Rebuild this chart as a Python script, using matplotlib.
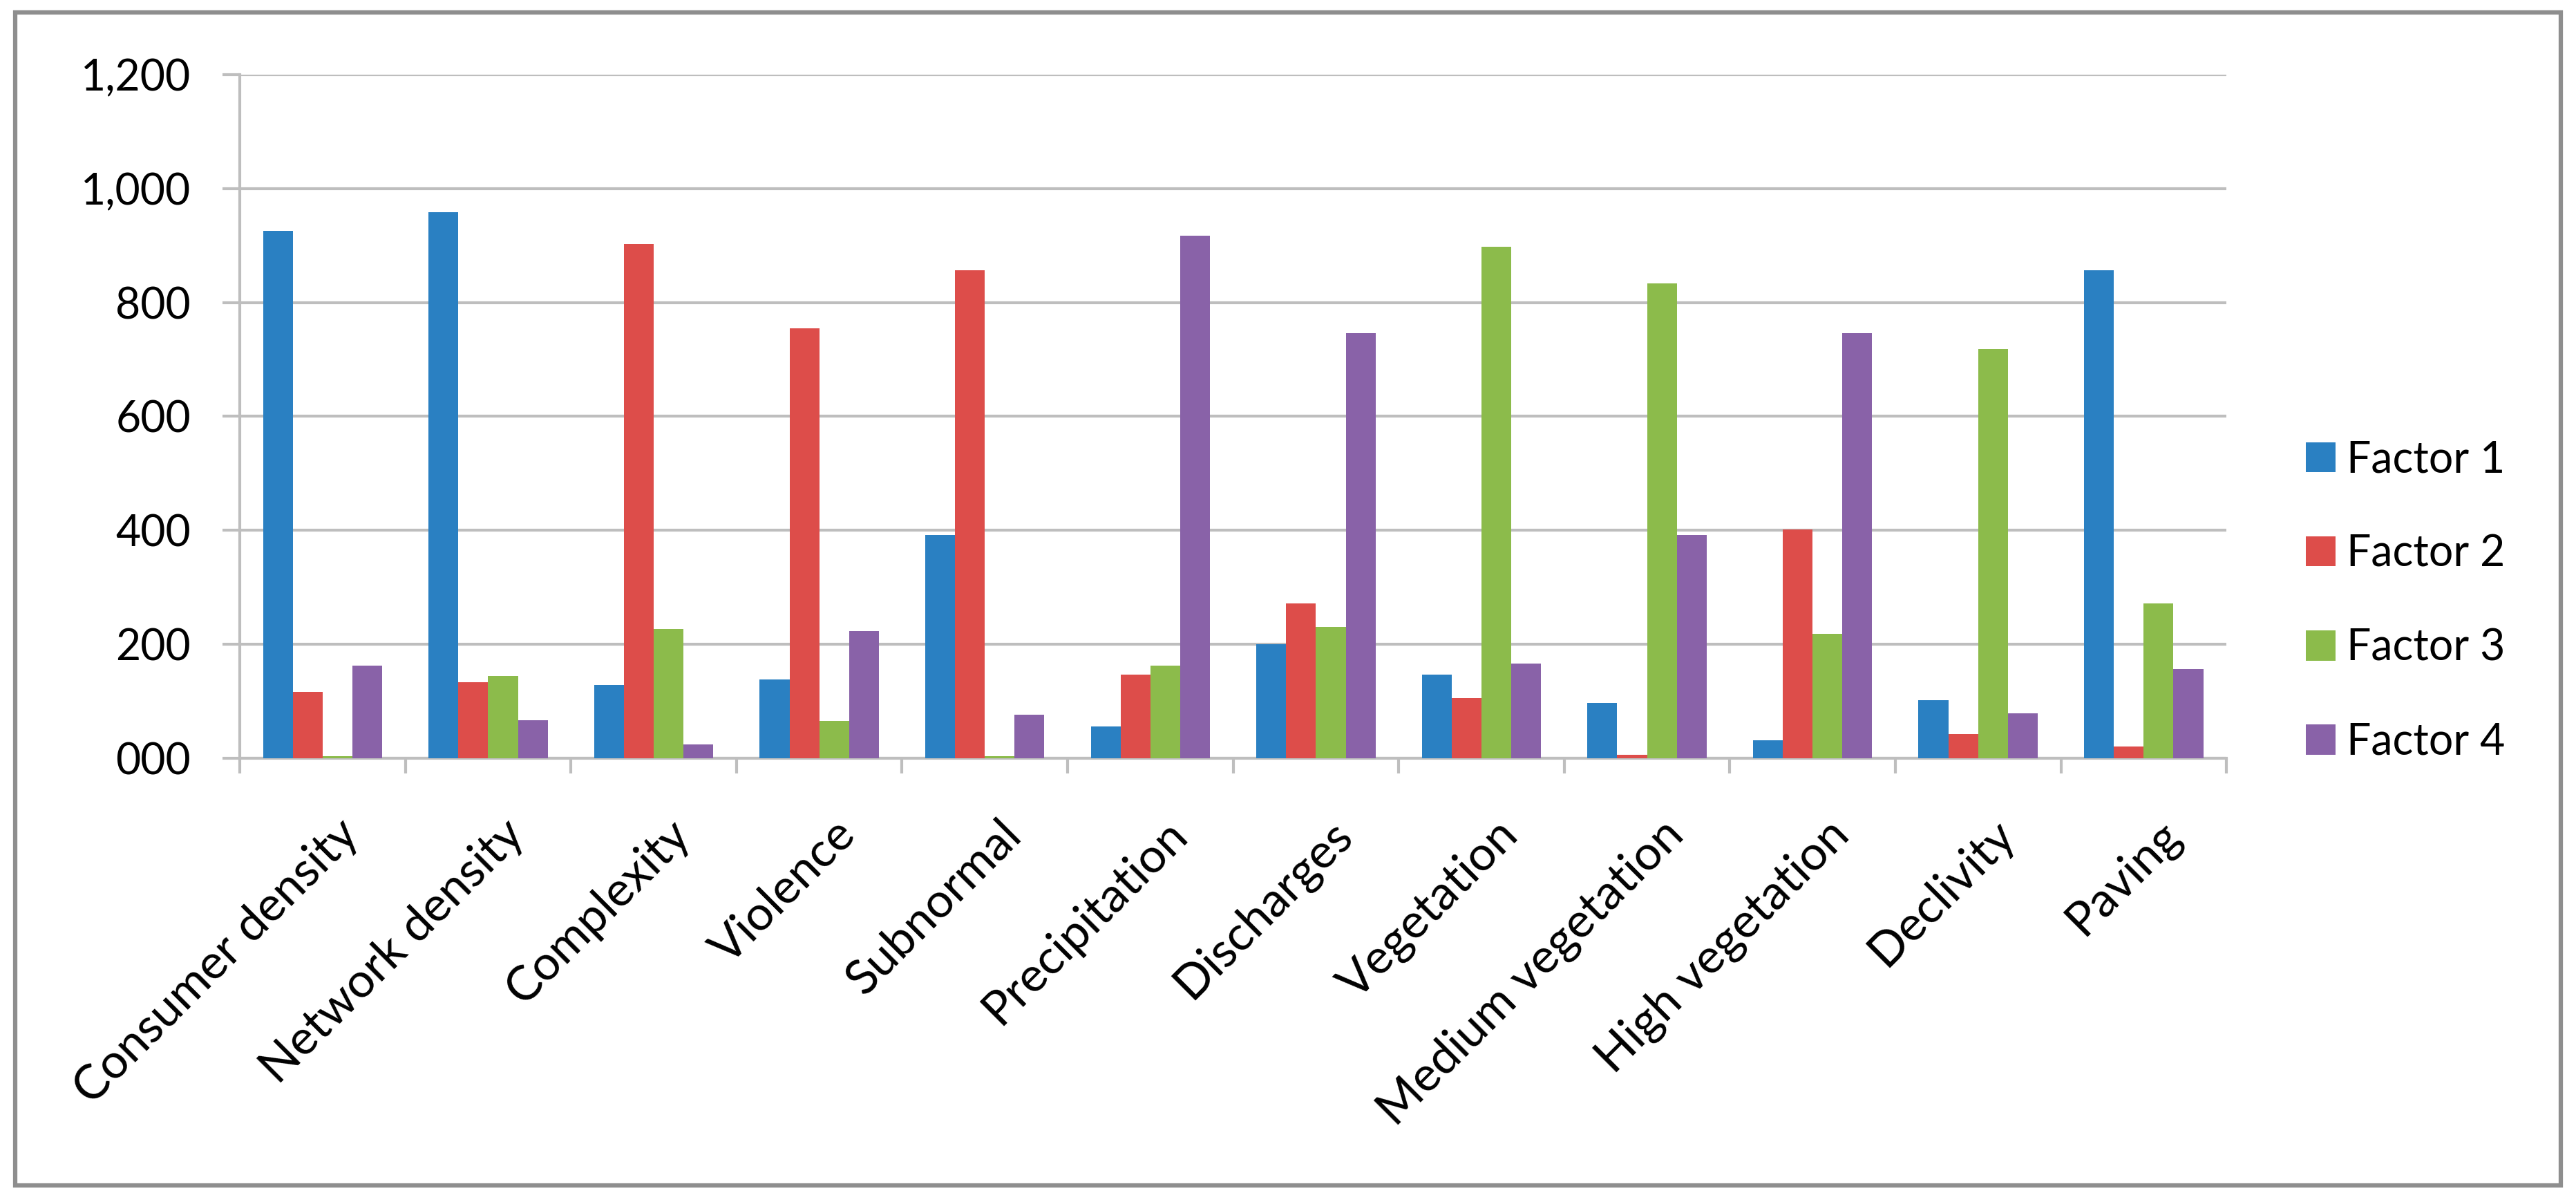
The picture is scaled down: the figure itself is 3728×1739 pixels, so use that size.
import matplotlib
matplotlib.use("Agg")
import matplotlib.pyplot as plt
from matplotlib import ticker, transforms
from matplotlib.patches import Rectangle
import numpy as np

plt.rcParams["font.family"] = ["Lato", "DejaVu Sans"]

categories = [
    "Consumer density", "Network density", "Complexity", "Violence",
    "Subnormal", "Precipitation", "Discharges", "Vegetation",
    "Medium vegetation", "High vegetation", "Declivity", "Paving",
]
factor_1 = [926, 958, 129, 138, 392, 56, 200, 147, 97, 32, 102, 856]
factor_2 = [116, 134, 903, 755, 857, 147, 272, 106, 6, 401, 42, 20]
factor_3 = [4, 144, 227, 66, 4, 162, 230, 898, 834, 218, 718, 272]
factor_4 = [162, 67, 24, 223, 76, 917, 746, 166, 392, 746, 79, 156]
series_names = ["Factor 1", "Factor 2", "Factor 3", "Factor 4"]
y_ticks = [0, 200, 400, 600, 800, 1000, 1200]
y_tick_labels = ["000", "200", "400", "600", "800", "1,000", "1,200"]

colors = ["#2A80C2", "#DD4D4A", "#8CBB4B", "#8962A8"]
grid_col = "#BEBEBE"

fig = plt.figure(figsize=(37.28, 17.39), dpi=100)
ax = fig.add_axes([0.0931, 0.3692, 0.8643 - 0.0931, 0.9379 - 0.3692])

x = np.arange(len(categories))
w = 0.18
all_series = [factor_1, factor_2, factor_3, factor_4]
for j, (vals, name) in enumerate(zip(all_series, series_names)):
    ax.bar(x + (j - 1.5) * w, vals, width=w, color=colors[j], label=name, zorder=3)

ax.set_xlim(-0.5, len(categories) - 0.5)
ax.set_ylim(0, 1200)
ax.set_yticks(y_ticks)
ax.set_yticklabels(y_tick_labels)
ax.yaxis.grid(True, color=grid_col, linewidth=3, zorder=0)
ax.set_axisbelow(True)

ax.set_xticks(x)
ax.set_xticklabels(categories, rotation=45, ha="right", va="top", rotation_mode="anchor")
ax.xaxis.set_minor_locator(ticker.FixedLocator(np.arange(-0.5, len(categories), 1.0)))
ax.tick_params(axis="x", which="major", length=0, pad=56, labelsize=50)
ax.tick_params(axis="x", which="minor", length=16, width=3, color=grid_col)
ax.tick_params(axis="y", length=18, width=3, color=grid_col, pad=33, labelsize=45)

off = transforms.ScaledTranslation(0.2, 0, fig.dpi_scale_trans)
for lab in ax.get_xticklabels():
    lab.set_transform(lab.get_transform() + off)

for s in ["top", "right"]:
    ax.spines[s].set_visible(False)
for s in ["left", "bottom"]:
    ax.spines[s].set_color(grid_col)
    ax.spines[s].set_linewidth(3)

ax.legend(loc="center left", bbox_to_anchor=(0.895, 0.5), bbox_transform=fig.transFigure,
          frameon=False, fontsize=45, handlelength=0.7, handleheight=0.7,
          handletextpad=0.25, labelspacing=1.25, borderpad=0, borderaxespad=0)

fig.patches.append(Rectangle((22 / 3728, 1 - 1715 / 1739), (3706 - 22) / 3728, (1715 - 18) / 1739,
                             transform=fig.transFigure, fill=False, edgecolor="#8E8E8E",
                             linewidth=4.5))

fig.savefig("out.png", dpi=100)
